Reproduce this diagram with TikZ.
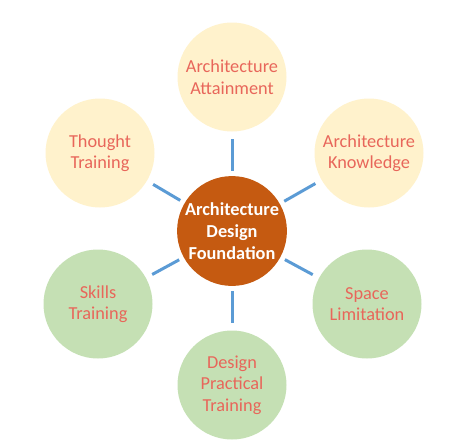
\documentclass[tikz,border=0pt]{standalone}
\usepackage{fontspec}
\setmainfont{Carlito}
\definecolor{cyellow}{HTML}{FFF2CC}
\definecolor{cgreen}{HTML}{C5E0B4}
\definecolor{corange}{HTML}{C55A11}
\definecolor{ctext}{HTML}{E8665A}
\definecolor{cline}{HTML}{5B9BD5}
\tikzset{
  outer/.style={circle, minimum size=109pt, inner sep=0pt, text=ctext, align=center,
    font=\fontsize{18.3}{21.5}\selectfont},
  yel/.style={outer, fill=cyellow},
  grn/.style={outer, fill=cgreen},
  hub/.style={circle, minimum size=108pt, inner sep=0pt, fill=corange, text=white, align=center,
    font=\fontsize{18.3}{22}\selectfont\bfseries},
  link/.style={draw=cline, line width=3pt, shorten <=5pt, shorten >=7pt}
}
\begin{document}
\begin{tikzpicture}[x=1pt,y=-1pt]
\useasboundingbox (0,0) rectangle (474,447);
\node[hub] (c) at (232,231) {Architecture\\Design\\Foundation};
\node[yel] (t) at (232,77) {Architecture\\Attainment};
\node[yel] (tl) at (100,153) {Thought\\Training};
\node[yel] (tr) at (369,153) {Architecture\\Knowledge};
\node[grn] (bl) at (98,304) {Skills\\Training};
\node[grn] (br) at (367,304) {Space\\Limitation};
\node[grn] (b) at (232,385) {Design\\Practical\\Training};
\foreach \n in {t,tl,tr,bl,br,b} \draw[link] (c) -- (\n);
\end{tikzpicture}
\end{document}
